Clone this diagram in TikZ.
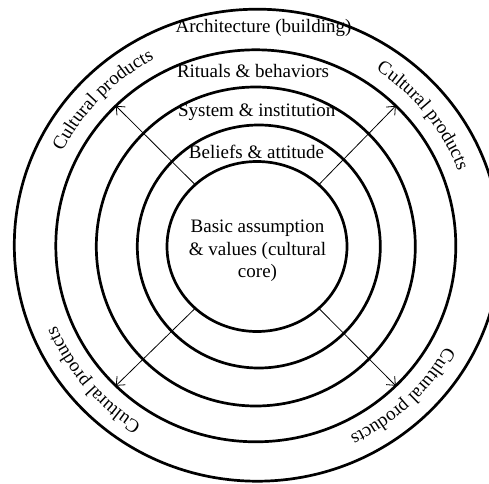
\documentclass[tikz,border=0pt]{standalone}
\usepackage{fontspec}
\setmainfont{Liberation Serif}
\usetikzlibrary{shapes.geometric,arrows.meta,decorations.text}
\newcommand\layerfont{\fontsize{19}{22.5}\selectfont}
\begin{document}
\begin{tikzpicture}[x=1pt,y=1pt,
  ring/.style={ellipse, draw, line width=2.7pt, inner sep=0pt, outer sep=0pt},
  layer/.style={font=\layerfont, anchor=base, inner sep=0pt},
  spoke/.style={line width=0.8pt, -{Straight Barb[length=7pt,width=12pt]}},
  curved/.style={decorate, decoration={text along path, text align=center,
      text={|\layerfont|Cultural products}}}]
\useasboundingbox (0,0) rectangle (489,483);
\clip (0,0) rectangle (489,483);

% concentric layers, outermost first
\node[ring, minimum width=486pt, minimum height=472pt] (artifacts) at (257.3,237.8) {};
\node[ring, minimum width=400pt, minimum height=392pt] (rituals) at (255.8,237.2) {};
\node[ring, minimum width=319pt, minimum height=319pt] (system) at (255.8,236.5) {};
\node[ring, minimum width=243pt, minimum height=243pt] (beliefs) at (258.8,236.5) {};
\node[ring, minimum width=180pt, minimum height=170pt] (core) at (257,236.5) {};

% layer names
\node[layer] (archlabel) at (263.5,450) {Architecture (building)};
\node[layer] (rituallabel) at (253,405) {Rituals \& behaviors};
\node[layer] (systemlabel) at (256.7,366.3) {System \& institution};
\node[layer] (belieflabel) at (256.5,325) {Beliefs \& attitude};
\node[font=\layerfont, align=center, inner sep=0pt] (corelabel) at (257.5,232)
  {Basic assumption\\ \& values (cultural\\ core)};

% spokes from the core outwards
\draw[spoke] (core.135) -- (rituals.135);
\draw[spoke] (core.45) -- (rituals.45);
\draw[spoke] (core.225) -- (rituals.225);
\draw[spoke] (core.315) -- (rituals.315);

% curved captions in the outer ring
\path[curved] ([shift={(256,237.5)}]171:216pt and 211pt)
  arc[start angle=171, end angle=101, x radius=216pt, y radius=211pt];
\path[curved] ([shift={(256,237.5)}]73.3:216pt and 211pt)
  arc[start angle=73.3, end angle=3.3, x radius=216pt, y radius=211pt];
\path[curved] ([shift={(256,237.5)}]-11.3:216pt and 211pt)
  arc[start angle=-11.3, end angle=-81.3, x radius=216pt, y radius=211pt];
\path[curved] ([shift={(256,237.5)}]-105:216pt and 211pt)
  arc[start angle=-105, end angle=-175, x radius=216pt, y radius=211pt];
\end{tikzpicture}
\end{document}
